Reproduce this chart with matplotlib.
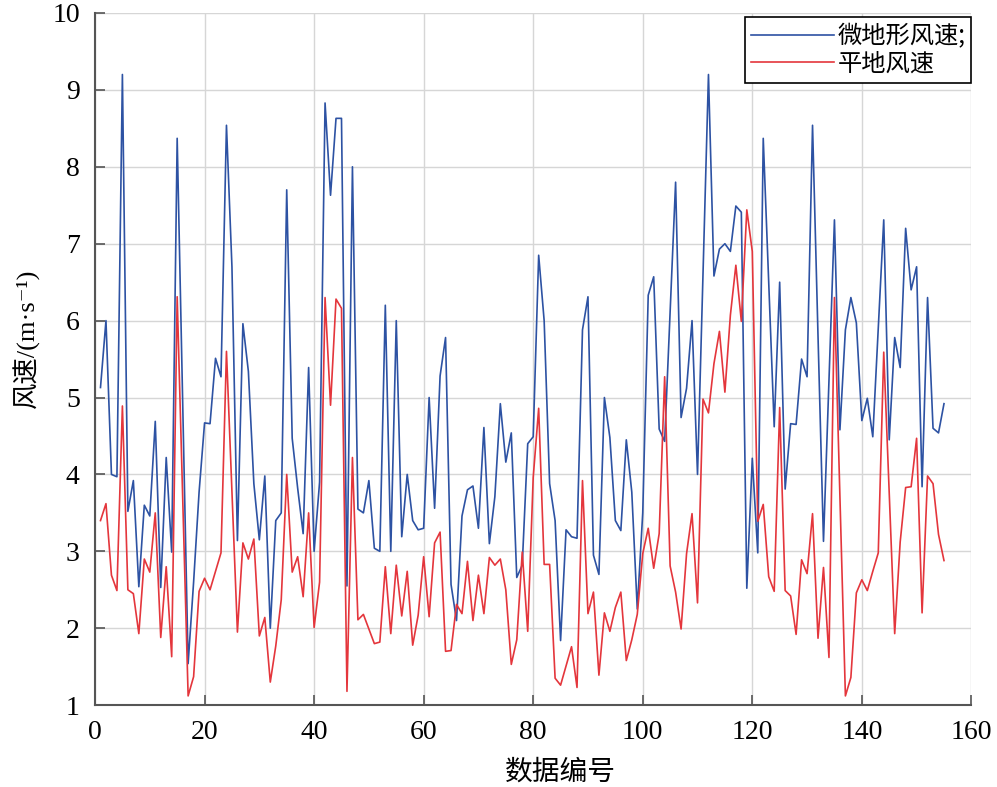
import numpy as np
import matplotlib
matplotlib.use('Agg')
from matplotlib import pyplot as plt

# 微地形风速
micro = [5.13, 6.0, 4.0, 3.97, 9.2, 3.52, 3.92, 2.54, 3.6, 3.46,
         4.69, 2.53, 4.22, 2.99, 8.37, 4.96, 1.54, 2.6, 3.77, 4.67,
         4.66, 5.51, 5.27, 8.54, 6.7, 3.14, 5.96, 5.34, 3.88, 3.15,
         3.98, 2.0, 3.4, 3.5, 7.7, 4.47, 3.82, 3.23, 5.39, 3.0,
         3.9, 8.83, 7.63, 8.63, 8.63, 2.55, 8.0, 3.55, 3.5, 3.92,
         3.04, 3.0, 6.2, 3.0, 6.0, 3.19, 4.0, 3.4, 3.28, 3.3,
         5.0, 3.56, 5.28, 5.78, 2.57, 2.1, 3.46, 3.8, 3.85, 3.3,
         4.61, 3.1, 3.71, 4.92, 4.16, 4.54, 2.66, 2.82, 4.4, 4.49,
         6.85, 6.0, 3.88, 3.4, 1.84, 3.28, 3.19, 3.17, 5.88, 6.31,
         2.95, 2.7, 5.0, 4.48, 3.4, 3.27, 4.45, 3.77, 2.25, 3.5,
         6.33, 6.57, 4.59, 4.43, 6.1, 7.8, 4.74, 5.12, 6.0, 4.0,
         6.6, 9.2, 6.58, 6.93, 7.0, 6.9, 7.49, 7.41, 2.52, 4.21,
         2.98, 8.37, 6.5, 4.62, 6.5, 3.81, 4.66, 4.65, 5.5, 5.27,
         8.54, 5.8, 3.13, 5.2, 7.31, 4.58, 5.88, 6.3, 5.97, 4.7,
         4.99, 4.49, 5.9, 7.31, 4.45, 5.78, 5.39, 7.2, 6.4, 6.7,
         3.84, 6.3, 4.6, 4.54, 4.92]
# 平地风速
flat = [3.4, 3.62, 2.69, 2.49, 4.89, 2.5, 2.45, 1.93, 2.9, 2.73,
        3.5, 1.88, 2.8, 1.63, 6.31, 3.7, 1.12, 1.37, 2.48, 2.65,
        2.5, 2.74, 2.98, 5.6, 3.77, 1.95, 3.11, 2.9, 3.16, 1.9,
        2.14, 1.3, 1.77, 2.37, 4.0, 2.73, 2.93, 2.41, 3.5, 2.01,
        2.6, 6.3, 4.9, 6.28, 6.16, 1.18, 4.22, 2.11, 2.18, 1.99,
        1.8, 1.82, 2.8, 1.93, 2.82, 2.16, 2.74, 1.78, 2.17, 2.93,
        2.15, 3.11, 3.25, 1.7, 1.71, 2.31, 2.19, 2.87, 2.1, 2.69,
        2.19, 2.92, 2.82, 2.9, 2.5, 1.53, 1.85, 2.99, 1.96, 3.96,
        4.86, 2.83, 2.83, 1.35, 1.26, 1.51, 1.76, 1.23, 3.92, 2.19,
        2.47, 1.39, 2.2, 1.96, 2.27, 2.47, 1.58, 1.85, 2.18, 2.97,
        3.3, 2.78, 3.23, 5.27, 2.81, 2.47, 1.99, 2.97, 3.49, 2.33,
        4.98, 4.8, 5.44, 5.86, 5.07, 6.07, 6.72, 5.99, 7.44, 6.9,
        3.39, 3.61, 2.67, 2.48, 4.87, 2.49, 2.42, 1.92, 2.89, 2.71,
        3.49, 1.87, 2.79, 1.62, 6.3, 3.7, 1.12, 1.36, 2.46, 2.63,
        2.49, 2.74, 2.98, 5.59, 3.77, 1.93, 3.12, 3.83, 3.84, 4.47,
        2.2, 3.98, 3.88, 3.22, 2.88]
idx = np.arange(1, len(micro) + 1)

xticks = [0, 20, 40, 60, 80, 100, 120, 140, 160]
yticks = [1, 2, 3, 4, 5, 6, 7, 8, 9, 10]

fam = ['Liberation Serif', 'Noto Sans CJK SC', 'DejaVu Serif']
plt.rcParams['font.family'] = fam

fig = plt.figure(figsize=(9.97, 7.87), dpi=100)
ax = fig.add_axes([0.0953, 0.104, 0.879, 0.8795])

ax.plot(idx, micro, color='#2d52a3', lw=1.2, label='微地形风速;')
ax.plot(idx, flat, color='#e4363c', lw=1.2, label='平地风速')

ax.set_xlim(0, 160)
ax.set_ylim(1, 10)
ax.set_xticks(xticks)
ax.set_yticks(yticks)
ax.grid(True, color='#d6d6d6', lw=1.0)
ax.set_axisbelow(True)
for s in ['top', 'right']:
    ax.spines[s].set_visible(False)
for s in ['left', 'bottom']:
    ax.spines[s].set_color('#555555')
    ax.spines[s].set_linewidth(1.5)
ax.tick_params(direction='in', length=7, width=1.2, color='#555555',
               labelsize=20, pad=11)

# 轴标题位置按原图手动放
ax.set_xlabel('数据编号', fontsize=20, family=['Noto Sans CJK SC'])
ax.xaxis.set_label_coords(0.531, -0.075)
ax.set_ylabel('风速/(m·s⁻¹)', fontsize=19)
ax.yaxis.set_label_coords(-0.063, 0.53)

leg = ax.legend(loc='upper right', bbox_to_anchor=(1.0, 0.994), handlelength=3.4,
                handletextpad=0.15, borderpad=0.25, labelspacing=0.05,
                borderaxespad=0.0, fancybox=False, framealpha=1,
                edgecolor='black', prop={'family': ['Noto Sans CJK SC'], 'size': 17.5})
leg.get_frame().set_linewidth(1.2)

fig.savefig('out.png', dpi=100)
